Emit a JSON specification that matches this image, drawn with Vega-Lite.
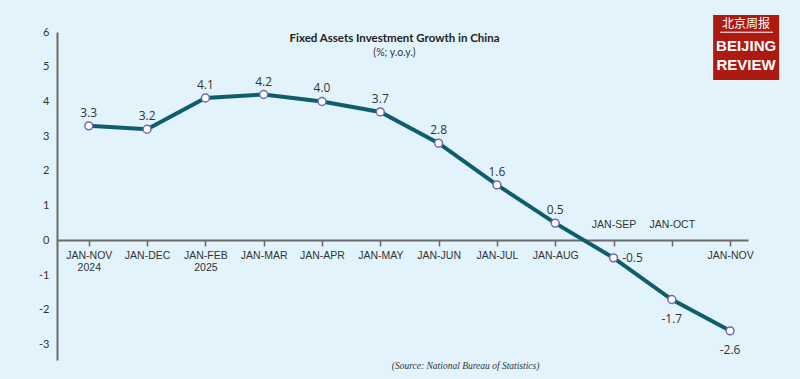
{
  "$schema": "https://vega.github.io/schema/vega-lite/v6.json",
  "width": 691,
  "height": 328,
  "autosize": {"type": "none"},
  "padding": {"left": 57, "top": 32, "right": 52, "bottom": 19},
  "background": "#e2f3fb",
  "config": {
    "view": {"stroke": null},
    "locale": {"number": {"decimal": ".", "thousands": ",", "grouping": [3], "currency": ["$", ""], "minus": "-"}}
  },
  "title": {
    "text": "Fixed Assets Investment Growth in China",
    "subtitle": "(%; y.o.y.)",
    "anchor": "middle",
    "frame": "group",
    "dx": -8,
    "offset": 0,
    "dy": 43,
    "font": "Lato",
    "fontSize": 11.5,
    "fontWeight": "bold",
    "color": "#222222",
    "subtitleFont": "Lato",
    "subtitleFontSize": 10.5,
    "subtitleColor": "#333333",
    "subtitlePadding": 3
  },
  "data": {
    "values": [
      {"period": "JAN-NOV 2024", "value": 3.3},
      {"period": "JAN-DEC", "value": 3.2},
      {"period": "JAN-FEB 2025", "value": 4.1},
      {"period": "JAN-MAR", "value": 4.2},
      {"period": "JAN-APR", "value": 4.0},
      {"period": "JAN-MAY", "value": 3.7},
      {"period": "JAN-JUN", "value": 2.8},
      {"period": "JAN-JUL", "value": 1.6},
      {"period": "JAN-AUG", "value": 0.5},
      {"period": "JAN-SEP", "value": -0.5},
      {"period": "JAN-OCT", "value": -1.7},
      {"period": "JAN-NOV", "value": -2.6}
    ]
  },
  "encoding": {
    "x": {
      "field": "period",
      "type": "ordinal",
      "sort": null,
      "scale": {
        "type": "point",
        "domain": ["JAN-NOV 2024", "JAN-DEC", "JAN-FEB 2025", "JAN-MAR", "JAN-APR", "JAN-MAY", "JAN-JUN", "JAN-JUL", "JAN-AUG", "JAN-SEP", "JAN-OCT", "JAN-NOV"],
        "padding": 0.426,
        "align": 0.64
      },
      "axis": {
        "orient": "bottom",
        "offset": -120,
        "title": null,
        "labelAngle": 0,
        "labelExpr": "split(datum.label, ' ')",
        "labelBaseline": "top",
        "labelLineHeight": 12,
        "labelFont": "Liberation Sans Narrow, Arial Narrow, sans-serif",
        "labelFontSize": 10.5,
        "labelColor": "#333333",
        "labelPadding": {"condition": {"test": "datum.value == 'JAN-SEP' || datum.value == 'JAN-OCT'", "value": -27}, "value": 4},
        "domainColor": "#6b6b6b",
        "domainWidth": 2,
        "tickColor": "#6b6b6b",
        "tickWidth": 1.5,
        "tickSize": 6,
        "grid": false
      }
    },
    "y": {
      "field": "value",
      "type": "quantitative",
      "scale": {"domain": [-3.44, 6], "nice": false, "zero": false},
      "axis": {
        "title": null,
        "values": [-3, -2, -1, 0, 1, 2, 3, 4, 5, 6],
        "ticks": false,
        "grid": false,
        "labelPadding": 8,
        "labelFont": "Lato",
        "labelFontSize": 11,
        "labelColor": "#333333",
        "domainColor": "#6b6b6b",
        "domainWidth": 2
      }
    }
  },
  "layer": [
    {
      "mark": {"type": "line", "color": "#0d5e6a", "strokeWidth": 4}
    },
    {
      "mark": {"type": "point", "shape": "circle", "filled": true, "fill": "white", "stroke": "#7466b8", "strokeWidth": 1.5, "size": 62, "opacity": 1}
    },
    {
      "transform": [{"filter": "datum.value >= 0"}],
      "mark": {"type": "text", "dy": -13, "font": "Open Sans", "fontSize": 12, "color": "#333333"},
      "encoding": {"text": {"field": "value", "type": "quantitative", "format": ".1f"}}
    },
    {
      "transform": [{"filter": "datum.period == 'JAN-SEP'"}],
      "mark": {"type": "text", "dx": 19, "font": "Open Sans", "fontSize": 12, "color": "#333333"},
      "encoding": {"text": {"field": "value", "type": "quantitative", "format": ".1f"}}
    },
    {
      "transform": [{"filter": "datum.period == 'JAN-OCT' || datum.period == 'JAN-NOV'"}],
      "mark": {"type": "text", "dy": 19, "font": "Open Sans", "fontSize": 12, "color": "#333333"},
      "encoding": {"text": {"field": "value", "type": "quantitative", "format": ".1f"}}
    },
    {
      "transform": [{"filter": "datum.period == 'JAN-NOV'"}],
      "mark": {"type": "point", "shape": "M-0.515,-1.04H1.485V0.93H-0.515Z", "filled": true, "fill": "#ad1a12", "strokeWidth": 0, "size": 4356, "opacity": 1},
      "encoding": {"y": {"datum": 5.5, "type": "quantitative"}}
    },
    {
      "transform": [{"filter": "datum.period == 'JAN-NOV'"}],
      "mark": {"type": "point", "shape": "M-0.3,-0.52H1.3", "filled": false, "stroke": "white", "strokeWidth": 1, "size": 4356, "opacity": 1},
      "encoding": {"y": {"datum": 5.5, "type": "quantitative"}}
    },
    {
      "transform": [{"filter": "datum.period == 'JAN-NOV'"}],
      "mark": {"type": "text", "text": "北京周报", "dx": 16, "dy": -25, "font": "Noto Sans CJK SC", "fontSize": 12, "color": "white", "baseline": "middle"},
      "encoding": {"y": {"datum": 5.5, "type": "quantitative"}}
    },
    {
      "transform": [{"filter": "datum.period == 'JAN-NOV'"}],
      "mark": {"type": "text", "text": ["BEIJING", "REVIEW"], "dx": 16, "dy": -3.5, "lineHeight": 19, "font": "Liberation Sans", "fontSize": 15, "fontWeight": "bold", "color": "white", "baseline": "middle"},
      "encoding": {"y": {"datum": 5.5, "type": "quantitative"}}
    },
    {
      "transform": [{"filter": "datum.period == 'JAN-JUN'"}],
      "mark": {"type": "text", "text": "(Source: National Bureau of Statistics)", "dx": 27, "dy": 6, "font": "Liberation Serif", "fontSize": 9.5, "fontStyle": "italic", "color": "#333333", "baseline": "middle"},
      "encoding": {"y": {"datum": -3.44, "type": "quantitative"}}
    }
  ]
}
